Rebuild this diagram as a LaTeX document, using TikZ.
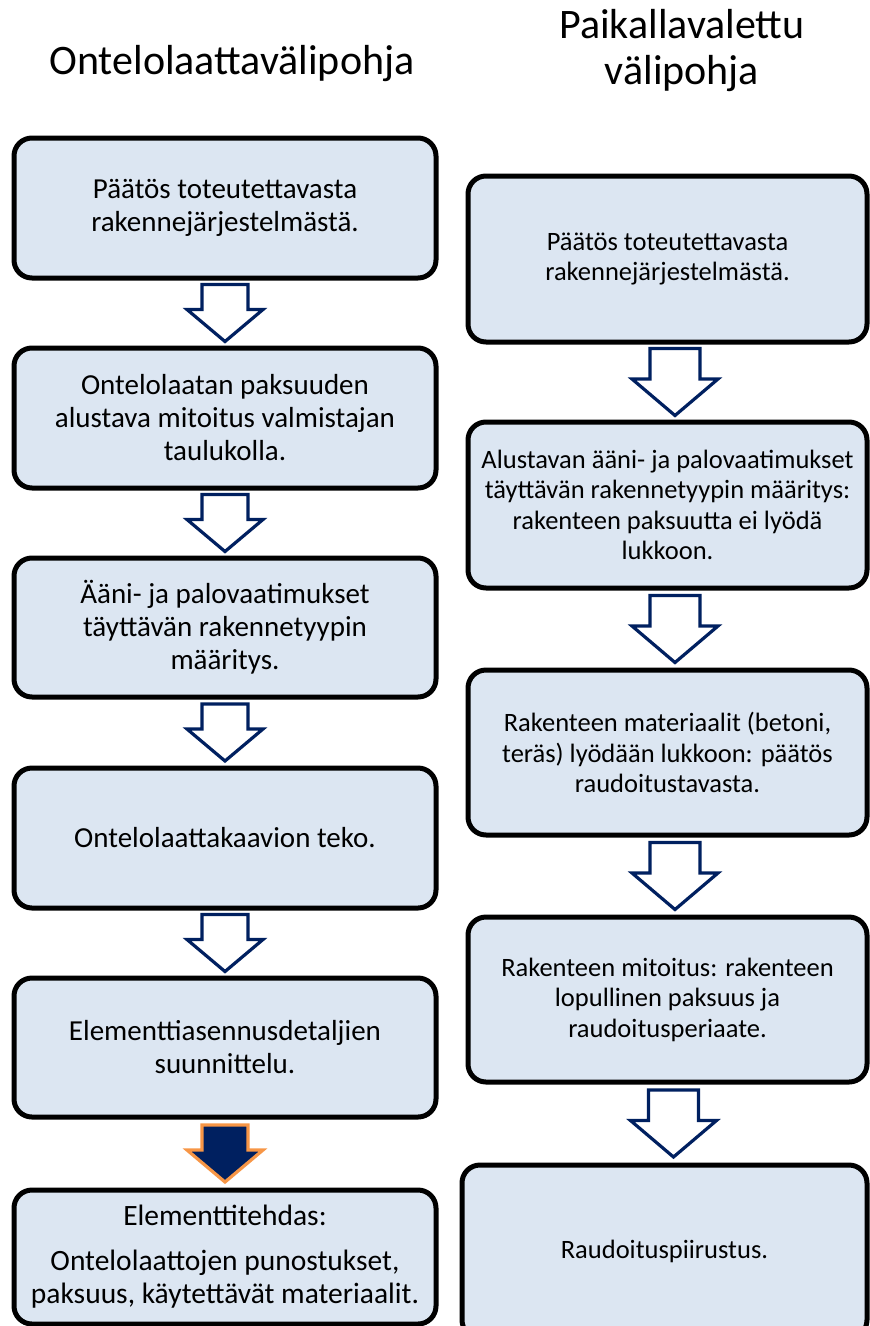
\documentclass[tikz,border=0pt]{standalone}
\usepackage{fontspec}
\setmainfont{Carlito}
\usetikzlibrary{calc}
\definecolor{boxblue}{HTML}{DCE6F2}
\definecolor{navy}{HTML}{002060}
\definecolor{orng}{HTML}{F79646}
\tikzset{
  x=1pt,y=-1pt,
  box/.style={draw=black, line width=5pt, fill=boxblue, rounded corners=18pt, align=center, inner sep=0pt},
  lbox/.style={box, minimum width=422pt, font=\fontsize{29}{33}\selectfont},
  rbox/.style={box, minimum width=399pt, font=\fontsize{26.5}{30.5}\selectfont},
  openarrow/.style={draw=navy, line width=3.2pt, fill=white, line join=miter},
  fullarrow/.style={draw=orng, line width=3.2pt, fill=navy, line join=miter},
  title/.style={font=\fontsize{42}{46}\selectfont, anchor=base}
}
\newcommand\larrowpath{(-23,-28.5) -- (23,-28.5) -- (23,-3.5) -- (38,-3.5) -- (0,28.5) -- (-38,-3.5) -- (-23,-3.5) -- cycle}
\newcommand\rarrowpath{(-25,-33.5) -- (25,-33.5) -- (25,-3) -- (43,-3) -- (0,33.5) -- (-43,-3) -- (-25,-3) -- cycle}
\begin{document}
\begin{tikzpicture}
\useasboundingbox (0,0) rectangle (870,1326);
\clip (0,0) rectangle (870,1326);
% titles
\node[title] (tl) at (232,74) {Ontelolaattavälipohja};
\node[title] (tr1) at (682,38) {Paikallavalettu};
\node[title] (tr2) at (682,84) {välipohja};
% left column
\node[lbox, minimum height=140pt] (l1) at (225,208) {Päätös toteutettavasta\\rakennejärjestelmästä.};
\node[lbox, minimum height=140pt] (l2) at (225,418) {Ontelolaatan paksuuden\\alustava mitoitus valmistajan\\taulukolla.};
\node[lbox, minimum height=139pt] (l3) at (225,627.5) {Ääni- ja palovaatimukset\\täyttävän rakennetyypin\\määritys.};
\node[lbox, minimum height=140pt] (l4) at (225,838) {Ontelolaattakaavion teko.};
\node[lbox, minimum height=139pt] (l5) at (225,1047.5) {Elementtiasennusdetaljien\\suunnittelu.};
\node[lbox, minimum height=134pt, font=\fontsize{29.5}{33.5}\selectfont] (l6) at (225,1257) {Elementtitehdas:\\[11pt]Ontelolaattojen punostukset,\\paksuus, käytettävät materiaalit.};
% right column
\node[rbox, minimum height=166pt] (r1) at (667.5,259) {Päätös toteutettavasta\\rakennejärjestelmästä.};
\node[rbox, minimum height=166pt] (r2) at (667.5,505) {Alustavan ääni- ja palovaatimukset\\täyttävän rakennetyypin määritys:\\rakenteen paksuutta ei lyödä\\lukkoon.};
\node[rbox, minimum height=165pt] (r3) at (667.5,752.5) {Rakenteen materiaalit (betoni,\\teräs) lyödään lukkoon: päätös\\raudoitustavasta.};
\node[rbox, minimum height=165pt] (r4) at (667.5,999.5) {Rakenteen mitoitus: rakenteen\\lopullinen paksuus ja\\raudoitusperiaate.};
\node[rbox, minimum height=173pt, minimum width=405pt] (r5) at (664.5,1251.5) {Raudoituspiirustus.};
% arrow anchors
\coordinate (la1) at ($(l1.south)!0.5!(l2.north)$);
\coordinate (la2) at ($(l2.south)!0.5!(l3.north)$);
\coordinate (la3) at ($(l3.south)!0.5!(l4.north)$);
\coordinate (la4) at ($(l4.south)!0.5!(l5.north)$);
\coordinate (la5) at ($(l5.south)!0.5!(l6.north)$);
\coordinate (ra1) at ($(r1.south)!0.5!(r2.north)+(7.5,0)$);
\coordinate (ra2) at ($(r2.south)!0.5!(r3.north)+(7.5,0)$);
\coordinate (ra3) at ($(r3.south)!0.5!(r4.north)+(7.5,0)$);
\coordinate (ra4) at ($(r4.south)!0.5!(r5.north)+(7.5,0)$);
% arrows
\foreach \a in {la1,la2,la3,la4}{\draw[openarrow, shift={(\a)}] \larrowpath;}
\draw[fullarrow, shift={(la5)}] \larrowpath;
\foreach \a in {ra1,ra2,ra3,ra4}{\draw[openarrow, shift={(\a)}] \rarrowpath;}
\end{tikzpicture}
\end{document}
